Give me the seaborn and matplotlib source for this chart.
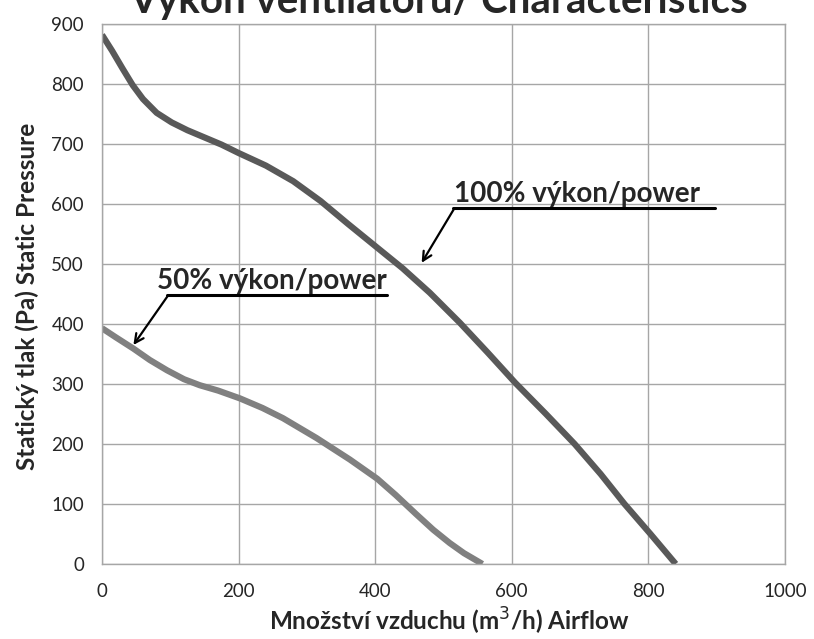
import matplotlib
matplotlib.use("Agg")
import matplotlib.pyplot as plt
import seaborn as sns
import pandas as pd

airflow_100 = [0, 15, 30, 45, 60, 80, 102, 125, 150, 175, 200, 240, 280, 320, 360, 400, 440, 480, 524, 565, 605, 650, 692, 730, 765, 803, 840]
pressure_100 = [882, 855, 826, 798, 775, 752, 736, 723, 711, 699, 685, 664, 638, 605, 567, 530, 493, 452, 402, 352, 302, 250, 200, 150, 100, 50, 0]
airflow_50 = [0, 20, 46, 70, 95, 120, 143, 170, 202, 235, 265, 314, 363, 403, 430, 460, 485, 509, 530, 557]
pressure_50 = [393, 378, 359, 340, 323, 308, 298, 289, 276, 260, 243, 210, 174, 142, 115, 83, 57, 35, 18, 0]
x_ticks = [0, 200, 400, 600, 800, 1000]
y_ticks = [0, 100, 200, 300, 400, 500, 600, 700, 800, 900]

df = pd.concat([
    pd.DataFrame({"airflow": airflow_100, "pressure": pressure_100, "series": "100%"}),
    pd.DataFrame({"airflow": airflow_50, "pressure": pressure_50, "series": "50%"}),
])

sns.set_theme(style="white")
plt.rcParams['font.family'] = ['Lato', 'DejaVu Sans']

fig = plt.figure(figsize=(8.14, 6.39), dpi=100)
ax = fig.add_axes([0.1253, 0.1174, 0.8391, 0.845])
sns.lineplot(data=df, x="airflow", y="pressure", hue="series",
             palette={"100%": "#595959", "50%": "#808080"}, linewidth=4.5,
             legend=False, ax=ax, sort=False)
for ln in ax.lines:
    ln.set_solid_joinstyle("round")
    ln.set_solid_capstyle("butt")

ax.set_xlim(0, 1000)
ax.set_ylim(0, 900)
ax.set_xticks(x_ticks)
ax.set_yticks(y_ticks)
ax.grid(True, color="#a6a6a6", linewidth=1)
ax.set_axisbelow(True)
for s in ax.spines.values():
    s.set_color("#a6a6a6")
    s.set_linewidth(1)
ax.tick_params(axis="both", length=0, labelsize=13.5, colors="#262626")
ax.tick_params(axis="x", pad=13.5)
ax.tick_params(axis="y", pad=13)

ax.set_xlabel("Množství vzduchu (m$^3$/h) Airflow", fontsize=17.5, fontweight="bold")
ax.set_ylabel("Statický tlak (Pa) Static Pressure", fontsize=17.5, fontweight="bold")
ax.xaxis.set_label_coords(0.508, -0.078)
ax.yaxis.set_label_coords(-0.092, 0.496)
fig.text(0.539, 1 - 13.5 / 639, "Výkon ventilátoru/ Characteristics", ha="center", va="baseline",
         fontsize=29, fontweight="bold")

# annotations
ax.plot([514, 897], [593, 593], color="black", linewidth=2.2, clip_on=False)
ax.annotate("", xy=(468, 502), xytext=(516, 593),
            arrowprops=dict(arrowstyle="->", color="black", lw=1.6, mutation_scale=16,
                            shrinkA=0, shrinkB=0))
ax.text(516, 603, "100% výkon/power", fontsize=20, fontweight="bold", ha="left", va="baseline")

ax.plot([95, 418], [448, 448], color="black", linewidth=2.2)
ax.annotate("", xy=(46, 365), xytext=(97, 448),
            arrowprops=dict(arrowstyle="->", color="black", lw=1.6, mutation_scale=16,
                            shrinkA=0, shrinkB=0))
ax.text(81, 459, "50% výkon/power", fontsize=20, fontweight="bold", ha="left", va="baseline")

fig.savefig("out.png", dpi=100)
